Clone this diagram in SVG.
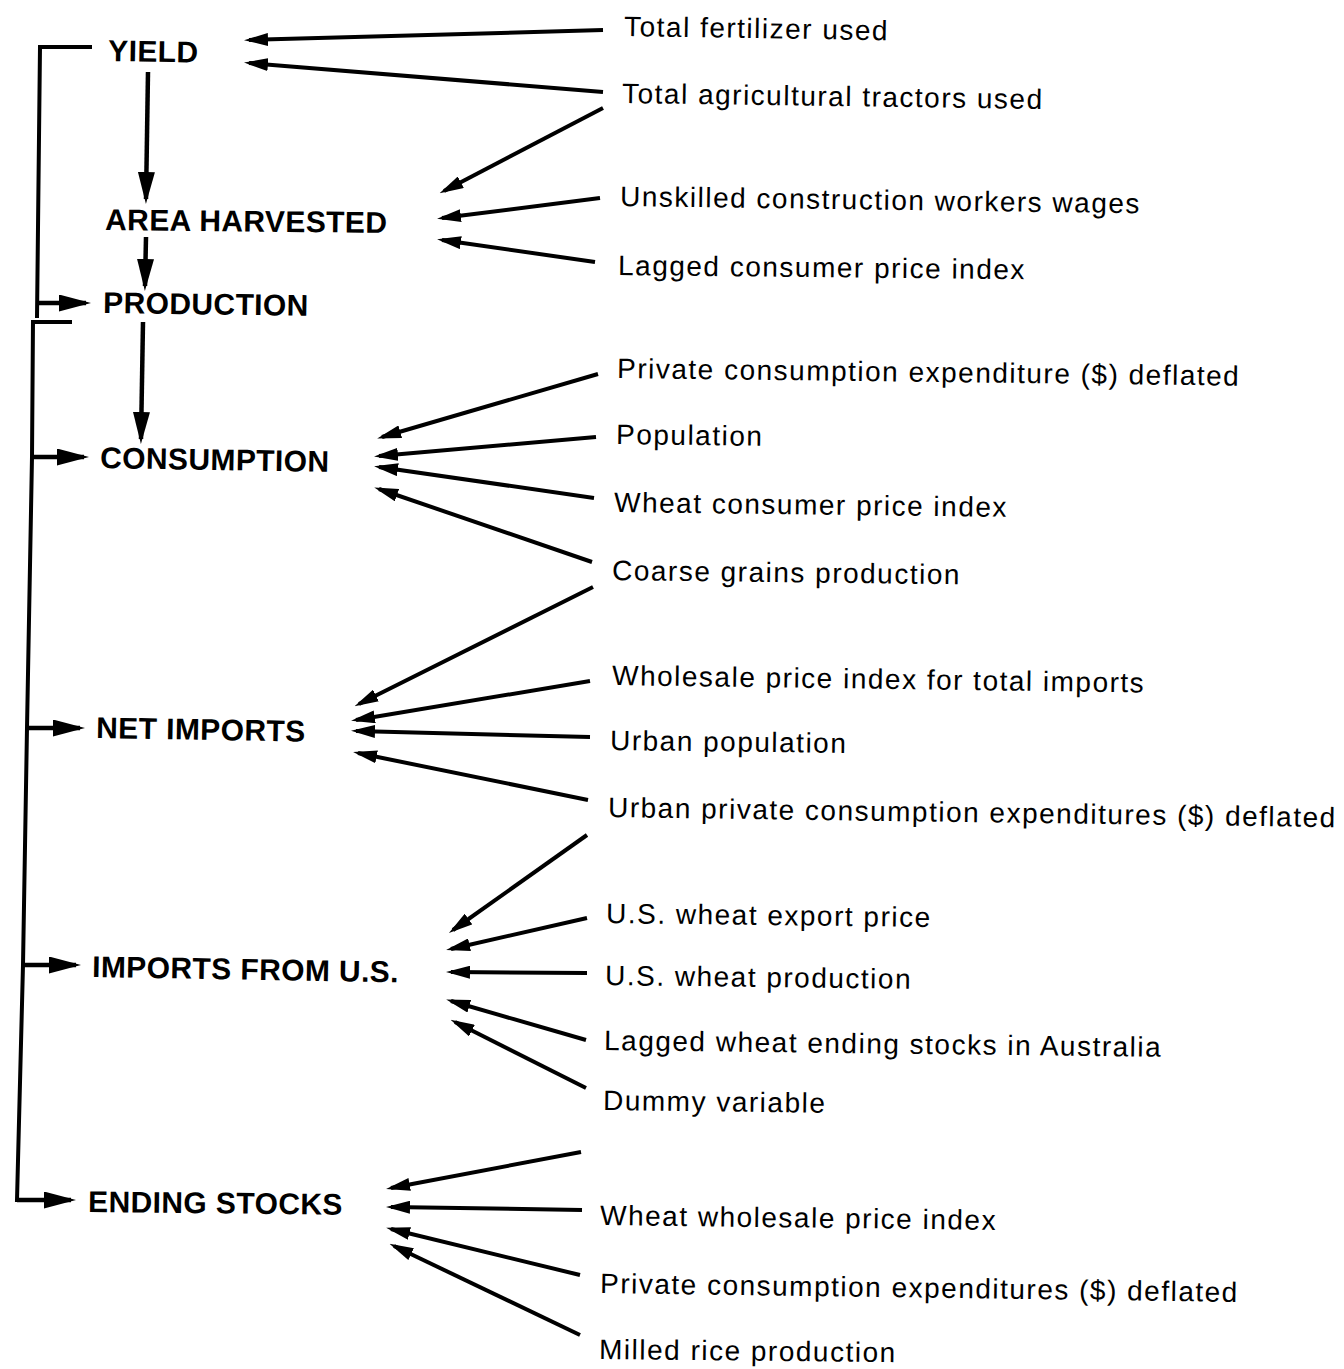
<svg xmlns="http://www.w3.org/2000/svg" width="1344" height="1369" viewBox="0 0 1344 1369">
  <style>
    .main { font-family: "Liberation Sans", Arial, sans-serif; font-weight: bold; font-size: 30px; letter-spacing: 0.4px; fill: #000; }
    .var { font-family: "Liberation Sans", Arial, sans-serif; font-size: 28px; letter-spacing: 1.5px; fill: #000; }
    .ln { fill: none; stroke: #000; stroke-width: 4; stroke-linecap: butt; stroke-linejoin: miter; }
    .in { marker-end: url(#head-sm); }
    .flow { marker-end: url(#head-lg); stroke-width: 4.5; }
  </style>
  <defs>
    <marker id="head-sm" markerUnits="userSpaceOnUse" markerWidth="24" markerHeight="13" viewBox="0 0 24 13" refX="19" refY="6.5" orient="auto">
      <path d="M0,0 L24,6.5 L0,13 z" fill="#000"/>
    </marker>
    <marker id="head-lg" markerUnits="userSpaceOnUse" markerWidth="32" markerHeight="17" viewBox="0 0 32 17" refX="27" refY="8.5" orient="auto">
      <path d="M0,0 L32,8.5 L0,17 z" fill="#000"/>
    </marker>
  </defs>

  <rect width="1344" height="1369" fill="#fff"/>

  <!-- connectors -->
  <g id="connectors">
    <!-- feedback bracket on the left -->
    <polyline class="ln" points="92,47 40,47 37,318"/>
    <polyline class="ln" points="33,320 32,457 27,728 23,965 17,1200 30,1200"/>
    <path class="ln" d="M33,322 L72,322"/>
    <path class="ln flow" d="M37,303 L86,303"/>
    <path class="ln flow" d="M32,457 L84,457"/>
    <path class="ln flow" d="M27,728 L80,728"/>
    <path class="ln flow" d="M23,965 L76,965"/>
    <path class="ln flow" d="M17,1200 L71,1200"/>

    <!-- main chain -->
    <path class="ln flow" d="M148,72 L146,199"/>
    <path class="ln flow" d="M146,237 L145,286"/>
    <path class="ln flow" d="M143,322 L141,439"/>

    <!-- yield inputs -->
    <path class="ln in" d="M603,30 L249,40"/>
    <path class="ln in" d="M603,92 L249,63"/>
    <!-- area harvested inputs -->
    <path class="ln in" d="M603,108 L444,191"/>
    <path class="ln in" d="M600,198 L442,218"/>
    <path class="ln in" d="M595,262 L442,240"/>
    <!-- consumption inputs -->
    <path class="ln in" d="M598,374 L382,437"/>
    <path class="ln in" d="M596,437 L379,456"/>
    <path class="ln in" d="M594,498 L379,467"/>
    <path class="ln in" d="M592,562 L379,489" stroke-width="3.2"/>
    <!-- net imports inputs -->
    <path class="ln in" d="M593,587 L359,704"/>
    <path class="ln in" d="M590,681 L356,720"/>
    <path class="ln in" d="M590,737 L356,731"/>
    <path class="ln in" d="M588,800 L358,753"/>
    <!-- imports from U.S. inputs -->
    <path class="ln in" d="M587,835 L453,930"/>
    <path class="ln in" d="M587,918 L451,949"/>
    <path class="ln in" d="M587,973 L451,972"/>
    <path class="ln in" d="M586,1040 L451,1001"/>
    <path class="ln in" d="M586,1088 L455,1022"/>
    <!-- ending stocks inputs -->
    <path class="ln in" d="M581,1152 L391,1188"/>
    <path class="ln in" d="M582,1210 L391,1207"/>
    <path class="ln in" d="M580,1275 L391,1229"/>
    <path class="ln in" d="M580,1335 L394,1246"/>
  </g>

  <!-- model variables -->
  <g id="yield"><text class="main" x="108" y="61" transform="rotate(1 108 61)">YIELD</text></g>
  <g id="area-harvested"><text class="main" x="105" y="230" transform="rotate(0.6 105 230)">AREA HARVESTED</text></g>
  <g id="production"><text class="main" x="103" y="313" transform="rotate(0.8 103 313)">PRODUCTION</text></g>
  <g id="consumption"><text class="main" x="100" y="468" transform="rotate(1 100 468)">CONSUMPTION</text></g>
  <g id="net-imports"><text class="main" x="96" y="738" transform="rotate(1 96 738)">NET IMPORTS</text></g>
  <g id="imports-from-us"><text class="main" x="92" y="977" transform="rotate(1 92 977)">IMPORTS FROM U.S.</text></g>
  <g id="ending-stocks"><text class="main" x="88" y="1212" transform="rotate(0.6 88 1212)">ENDING STOCKS</text></g>

  <!-- explanatory variables -->
  <g id="total-fertilizer"><text class="var" x="624" y="36" transform="rotate(0.9 624 36)">Total fertilizer used</text></g>
  <g id="total-tractors"><text class="var" x="622" y="103" transform="rotate(0.8 622 103)">Total agricultural tractors used</text></g>
  <g id="unskilled-wages"><text class="var" x="620" y="206" transform="rotate(0.8 620 206)">Unskilled construction workers wages</text></g>
  <g id="lagged-cpi"><text class="var" x="618" y="275" transform="rotate(0.6 618 275)">Lagged consumer price index</text></g>
  <g id="private-consumption"><text class="var" x="617" y="378" transform="rotate(0.7 617 378)">Private consumption expenditure ($) deflated</text></g>
  <g id="population"><text class="var" x="616" y="444" transform="rotate(0.7 616 444)">Population</text></g>
  <g id="wheat-cpi"><text class="var" x="614" y="512" transform="rotate(0.7 614 512)">Wheat consumer price index</text></g>
  <g id="coarse-grains"><text class="var" x="612" y="580" transform="rotate(0.7 612 580)">Coarse grains production</text></g>
  <g id="wholesale-imports"><text class="var" x="612" y="685" transform="rotate(0.8 612 685)">Wholesale price index for total imports</text></g>
  <g id="urban-population"><text class="var" x="610" y="750" transform="rotate(0.7 610 750)">Urban population</text></g>
  <g id="urban-consumption"><text class="var" x="608" y="817" transform="rotate(0.8 608 817)">Urban private consumption expenditures ($) deflated</text></g>
  <g id="us-export-price"><text class="var" x="606" y="923" transform="rotate(0.7 606 923)">U.S. wheat export price</text></g>
  <g id="us-production"><text class="var" x="605" y="985" transform="rotate(0.7 605 985)">U.S. wheat production</text></g>
  <g id="australia-stocks"><text class="var" x="604" y="1050" transform="rotate(0.7 604 1050)">Lagged wheat ending stocks in Australia</text></g>
  <g id="dummy"><text class="var" x="603" y="1110" transform="rotate(0.7 603 1110)">Dummy variable</text></g>
  <g id="wheat-wpi"><text class="var" x="600" y="1225" transform="rotate(0.7 600 1225)">Wheat wholesale price index</text></g>
  <g id="private-consumption-2"><text class="var" x="600" y="1293" transform="rotate(0.8 600 1293)">Private consumption expenditures ($) deflated</text></g>
  <g id="milled-rice"><text class="var" x="599" y="1359" transform="rotate(0.6 599 1359)">Milled rice production</text></g>
</svg>
